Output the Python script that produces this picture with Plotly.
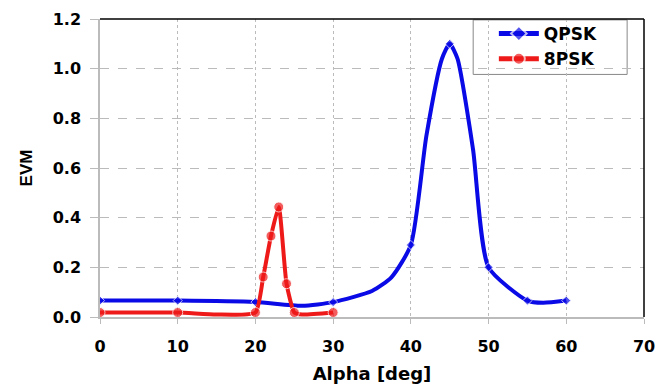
import plotly.graph_objects as go

# QPSK data
qpsk_alpha = [0, 10, 20, 26, 30, 35, 37.5, 40, 42, 44, 45, 46, 48, 50, 55, 57, 60]
qpsk_evm = [0.066, 0.066, 0.060, 0.045, 0.060, 0.105, 0.16, 0.29, 0.73, 1.04, 1.10, 1.04, 0.675, 0.20, 0.066, 0.057, 0.066]
qpsk_marked = [0, 10, 20, 30, 40, 45, 50, 55, 60]

# 8PSK data
psk8_alpha = [0, 10, 15, 20, 21, 22, 23, 24, 25, 26, 30]
psk8_evm = [0.018, 0.018, 0.010, 0.018, 0.161, 0.326, 0.443, 0.134, 0.018, 0.010, 0.018]
psk8_marked = [0, 10, 20, 21, 22, 23, 24, 25, 30]

x_ticks = [0, 10, 20, 30, 40, 50, 60, 70]
y_ticks = [0.0, 0.2, 0.4, 0.6, 0.8, 1.0, 1.2]

FONT = "DejaVu Sans, Verdana, sans-serif"
BLUE = "#0a0ae6"
RED = "#ee1a1a"

fig = go.Figure()
fig.add_trace(go.Scatter(
    x=qpsk_alpha, y=qpsk_evm, name="QPSK", mode="lines+markers",
    line=dict(color=BLUE, width=4, shape="spline", smoothing=0.6),
    marker=dict(symbol="diamond", color=BLUE,
                size=[7 if a in qpsk_marked else 0 for a in qpsk_alpha]),
))
fig.add_trace(go.Scatter(
    x=psk8_alpha, y=psk8_evm, name="8PSK", mode="lines+markers",
    line=dict(color=RED, width=4, shape="spline", smoothing=0.5),
    marker=dict(symbol="circle", color=RED,
                size=[10 if a in psk8_marked else 0 for a in psk8_alpha]),
))

# page has an 8px body margin: figure is 659x380 placed at (8, 8)
fig.update_layout(
    width=659, height=380,
    margin=dict(l=92, r=23, t=8, b=71),
    paper_bgcolor="white", plot_bgcolor="white",
    font=dict(family=FONT, size=16, color="black", weight="bold"),
    showlegend=True,
    legend=dict(
        x=0.724, y=1.01, xanchor="left", yanchor="top",
        bgcolor="rgba(0,0,0,0)", borderwidth=0,
        font=dict(family=FONT, size=17, color="black", weight="bold"),
        itemwidth=40, tracegroupgap=0, itemsizing="constant",
    ),
    xaxis=dict(
        range=[0, 70], tickvals=x_ticks, ticktext=[str(v) for v in x_ticks],
        showgrid=True, gridcolor="#bbbbbb", griddash="dot", gridwidth=1,
        showline=True, linecolor="#bbbbbb", linewidth=1.5,
        ticks="outside", ticklen=5, tickcolor="#bbbbbb",
        ticklabelstandoff=9, zeroline=False, automargin=False,
        title=dict(text="Alpha [deg]", standoff=12,
                   font=dict(family=FONT, size=18, weight="bold")),
    ),
    yaxis=dict(
        range=[0, 1.2], tickvals=y_ticks, ticktext=[f"{v:.1f}" for v in y_ticks],
        showgrid=True, gridcolor="#bbbbbb", griddash="dash", gridwidth=1,
        showline=True, linecolor="#bbbbbb", linewidth=1.5,
        ticks="outside", ticklen=8, tickcolor="#bbbbbb",
        ticklabelstandoff=6, zeroline=False, automargin=False,
        title=dict(text="EVM", standoff=16,
                   font=dict(family="Liberation Sans, Arial, sans-serif", size=17, weight="bold")),
    ),
    shapes=[
        dict(type="rect", xref="paper", yref="paper", x0=0.686, x1=0.969, y0=0.814, y1=0.997,
             layer="below", fillcolor="white", line=dict(color="#888888", width=1)),
        dict(type="line", xref="paper", yref="paper", x0=0, x1=1, y0=1, y1=1,
             line=dict(color="black", width=1.5)),
        dict(type="line", xref="paper", yref="paper", x0=1, x1=1, y0=0, y1=1,
             line=dict(color="black", width=1.5)),
    ],
)

fig.write_html("out.html")
